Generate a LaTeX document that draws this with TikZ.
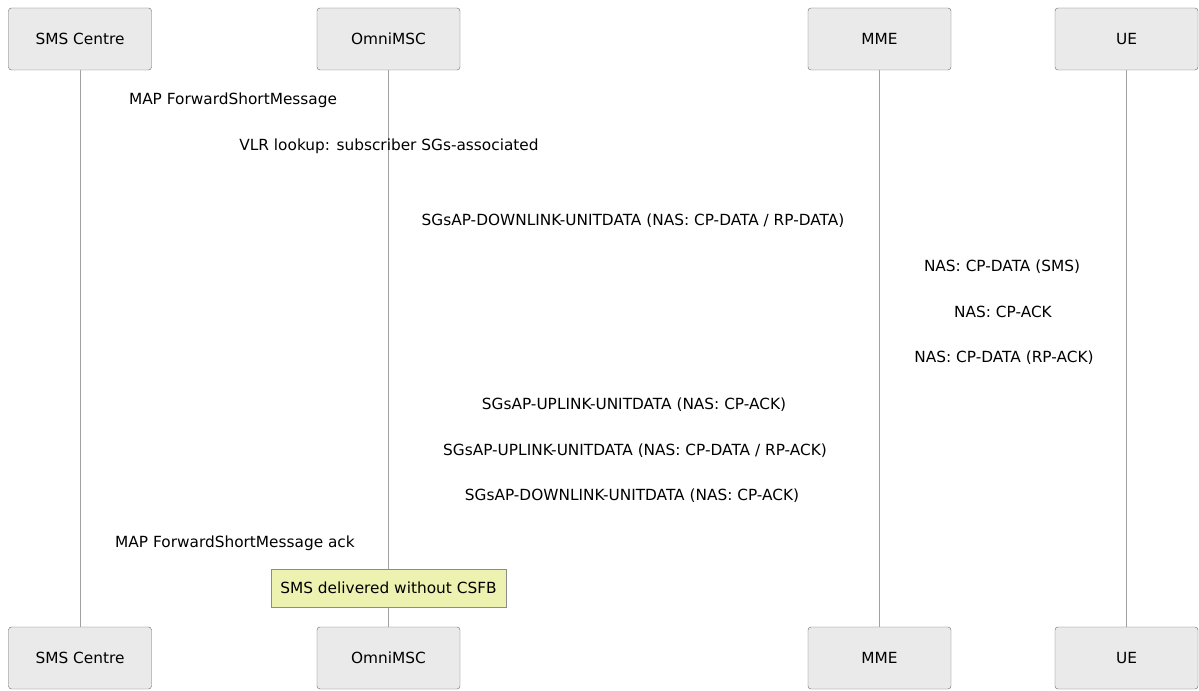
\documentclass[tikz,border=0pt]{standalone}
\usepackage{fontspec}
\setmainfont{DejaVu Sans}
\definecolor{actorfill}{HTML}{EAEAEA}
\definecolor{actorline}{HTML}{666666}
\definecolor{lifegray}{HTML}{A0A0A0}
\definecolor{notefill}{HTML}{EEF2B0}
\definecolor{noteline}{HTML}{8C8C8C}

\begin{document}
\begin{tikzpicture}[x=1bp, y=-1bp,
  actor/.style={draw=actorline, fill=actorfill, rounded corners=3bp,
    minimum width=143bp, minimum height=62bp, font=\fontsize{15.4}{18}\selectfont},
  msg/.style={font=\fontsize{15.4}{18}\selectfont, inner sep=0pt},
  lifeline/.style={draw=lifegray, line width=1bp},
  note/.style={draw=noteline, fill=notefill, minimum width=235bp,
    minimum height=38bp, font=\fontsize{15.4}{18}\selectfont}]
  \useasboundingbox (0,0) rectangle (1199,691);
  % Participants and lifelines
  \foreach \name/\x/\txt in {sc/80/SMS Centre, msc/388.5/OmniMSC, mme/879.5/MME, ue/1126.5/UE} {
    \node[actor] (\name top) at (\x,39) {\txt};
    \node[actor] (\name bot) at (\x,658) {\txt};
    \draw[lifeline] (\name top) -- (\name bot);
  }
  % Message labels
  \node[msg] (fsm) at (233,100) {MAP ForwardShortMessage};
  \node[msg] (vlr) at (389,146) {VLR lookup: subscriber SGs-associated};
  \node[msg] (dlud) at (633,221) {SGsAP-DOWNLINK-UNITDATA (NAS: CP-DATA / RP-DATA)};
  \node[msg] (cpdata) at (1002,267) {NAS: CP-DATA (SMS)};
  \node[msg] (cpack) at (1003,312) {NAS: CP-ACK};
  \node[msg] (rpack) at (1004,358) {NAS: CP-DATA (RP-ACK)};
  \node[msg] (ulack) at (634,405) {SGsAP-UPLINK-UNITDATA (NAS: CP-ACK)};
  \node[msg] (ulrp) at (635,451) {SGsAP-UPLINK-UNITDATA (NAS: CP-DATA / RP-ACK)};
  \node[msg] (dlack) at (632,496) {SGsAP-DOWNLINK-UNITDATA (NAS: CP-ACK)};
  \node[msg] (fsmack) at (235,543) {MAP ForwardShortMessage ack};
  % Note over OmniMSC
  \node[note] (done) at (388.5,588) {SMS delivered without CSFB};
\end{tikzpicture}
\end{document}
